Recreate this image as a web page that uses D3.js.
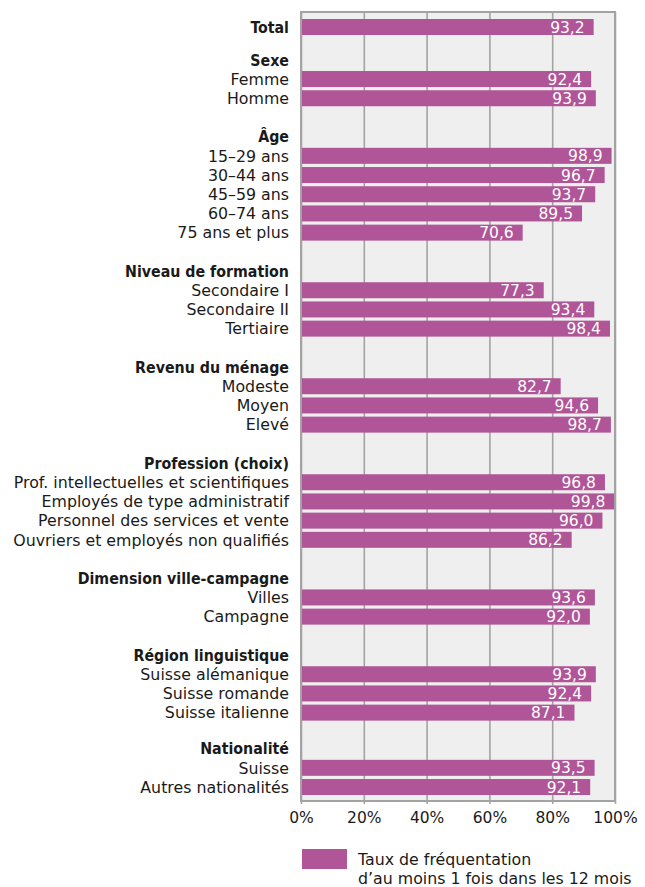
<!DOCTYPE html>
<html>
<head>
<meta charset="utf-8">
<script src="https://cdn.jsdelivr.net/npm/d3@7"></script>
<style>
  body { margin: 0; background: #fff; }
  text { font-family: "DejaVu Sans", sans-serif; fill: #1a1a1a; }
  text.head { font-family: "DejaVu Sans Condensed", "DejaVu Sans", sans-serif; font-stretch: condensed; font-weight: 700; }
</style>
</head>
<body>
<svg id="chart"></svg>
<script>
(function () {
    const totalLabel = "Total";
    const totalValue = 93.2;

    const groupTitles = [
        "Sexe", "Âge", "Niveau de formation", "Revenu du ménage",
        "Profession (choix)", "Dimension ville-campagne",
        "Région linguistique", "Nationalité"
    ];

    const sexeCats = ["Femme", "Homme"];
    const sexeValues = [92.4, 93.9];
    const ageCats = ["15–29 ans", "30–44 ans", "45–59 ans", "60–74 ans", "75 ans et plus"];
    const ageValues = [98.9, 96.7, 93.7, 89.5, 70.6];
    const formationCats = ["Secondaire I", "Secondaire II", "Tertiaire"];
    const formationValues = [77.3, 93.4, 98.4];
    const revenuCats = ["Modeste", "Moyen", "Elevé"];
    const revenuValues = [82.7, 94.6, 98.7];
    const professionCats = [
        "Prof. intellectuelles et scientifiques",
        "Employés de type administratif",
        "Personnel des services et vente",
        "Ouvriers et employés non qualifiés"
    ];
    const professionValues = [96.8, 99.8, 96.0, 86.2];
    const villeCats = ["Villes", "Campagne"];
    const villeValues = [93.6, 92.0];
    const regionCats = ["Suisse alémanique", "Suisse romande", "Suisse italienne"];
    const regionValues = [93.9, 92.4, 87.1];
    const nationCats = ["Suisse", "Autres nationalités"];
    const nationValues = [93.5, 92.1];

    const xTicks = [0, 20, 40, 60, 80, 100];
    const legendLines = ["Taux de fréquentation", "d’au moins 1 fois dans les 12 mois"];

    const groupCats = [sexeCats, ageCats, formationCats, revenuCats, professionCats, villeCats, regionCats, nationCats];
    const groupValues = [sexeValues, ageValues, formationValues, revenuValues, professionValues, villeValues, regionValues, nationValues];

    const width = 645;
    const height = 887;
    const barColor = "#b05598";
    const gridColor = "#a3a3a3";
    const labelSize = 15.8;
    const headerSize = 15.8;

    // row units: one unit per bar row, headers take a unit, blank space between groups
    const rows = [{ label: totalLabel, value: totalValue, unit: 0, bold: true }];
    const headers = [];
    let u = 0;
    groupTitles.forEach((title, gi) => {
        const blank = gi === 0 ? 0.71 : (gi === groupTitles.length - 1 ? 0.875 : 1);
        u += 1 + blank;
        headers.push({ label: title, unit: u });
        groupCats[gi].forEach((c, i) => {
            u += 1;
            rows.push({ label: c, value: groupValues[gi][i], unit: u, bold: false });
        });
    });

    const plot = { left: 301, right: 615, top: 12, bottom: 801 };

    const xScale = d3.scaleLinear()
        .domain([0, 100])
        .range([plot.left, plot.right]);

    const yScale = d3.scaleLinear()
        .domain([0, u])
        .range([27, 27 + 19.2 * u]);

    const barH = 16;

    const svg = d3.select('#chart')
        .attr('width', width)
        .attr('height', height);

    svg.append('rect')
        .attr('x', plot.left)
        .attr('y', plot.top)
        .attr('width', plot.right - plot.left)
        .attr('height', plot.bottom - plot.top)
        .attr('fill', '#efefef');

    // gridlines
    svg.append('g')
        .attr('transform', `translate(0,${plot.bottom})`)
        .call(d3.axisBottom(xScale).tickValues(xTicks).tickSize(-(plot.bottom - plot.top)).tickFormat(''))
        .call(g => g.select('.domain').remove())
        .call(g => g.selectAll('line').attr('stroke', gridColor).attr('stroke-width', 1.6));

    svg.append('g')
        .selectAll('rect')
        .data(rows)
        .join('rect')
        .attr('x', xScale(0))
        .attr('y', d => yScale(d.unit) - barH / 2)
        .attr('width', d => xScale(d.value) - xScale(0))
        .attr('height', barH)
        .attr('fill', barColor);

    svg.append('rect')
        .attr('x', plot.left)
        .attr('y', plot.top)
        .attr('width', plot.right - plot.left)
        .attr('height', plot.bottom - plot.top)
        .attr('fill', 'none')
        .attr('stroke', gridColor)
        .attr('stroke-width', 2);

    // bottom axis
    svg.append('g')
        .attr('transform', `translate(0,${plot.bottom})`)
        .call(d3.axisBottom(xScale).tickValues(xTicks).tickSize(3).tickPadding(8).tickFormat(d => d + '%'))
        .call(g => g.select('.domain').remove())
        .call(g => g.selectAll('line').attr('stroke', gridColor).attr('stroke-width', 1.6))
        .call(g => g.selectAll('text')
            .attr('font-size', 15.5)
            .attr('font-family', '"DejaVu Sans", sans-serif')
            .attr('fill', '#1a1a1a'));

    const fmt = v => d3.format('.1f')(v).replace('.', ',');

    svg.append('g')
        .selectAll('text')
        .data(rows)
        .join('text')
        .attr('x', d => xScale(d.value) - 9)
        .attr('y', d => yScale(d.unit))
        .attr('dy', '0.36em')
        .attr('text-anchor', 'end')
        .attr('font-size', 15.5)
        .style('fill', '#fff')
        .text(d => fmt(d.value));

    svg.append('g')
        .selectAll('text')
        .data(rows)
        .join('text')
        .attr('class', d => d.bold ? 'head' : null)
        .attr('x', 289)
        .attr('y', d => yScale(d.unit))
        .attr('dy', '0.36em')
        .attr('text-anchor', 'end')
        .attr('font-size', d => d.bold ? headerSize : labelSize)
        .text(d => d.label);

    svg.append('g')
        .selectAll('text')
        .data(headers)
        .join('text')
        .attr('class', 'head')
        .attr('x', 289)
        .attr('y', d => yScale(d.unit))
        .attr('dy', '0.36em')
        .attr('text-anchor', 'end')
        .attr('font-size', headerSize)
        .text(d => d.label);

    // legend
    const legend = svg.append('g');
    legend.append('rect')
        .attr('x', 302)
        .attr('y', 849)
        .attr('width', 45)
        .attr('height', 20)
        .attr('fill', barColor);
    legend.selectAll('text')
        .data(legendLines)
        .join('text')
        .attr('x', 358)
        .attr('y', (d, i) => 859 + i * 19)
        .attr('dy', '0.36em')
        .attr('font-size', labelSize)
        .text(d => d);
})();
</script>
</body>
</html>
